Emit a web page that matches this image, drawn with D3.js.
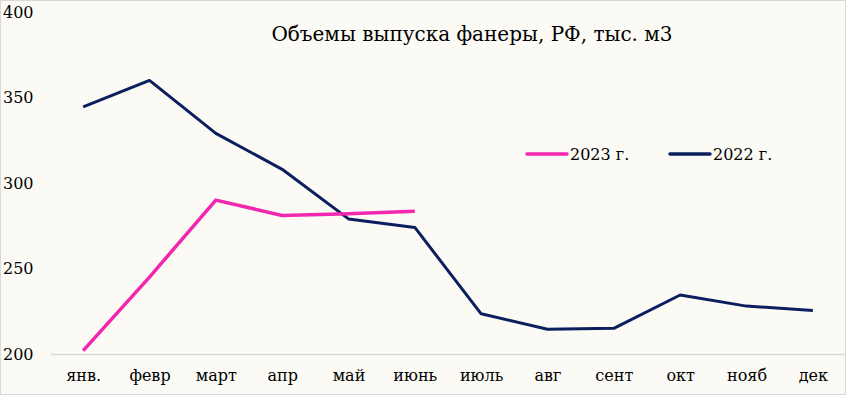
<!DOCTYPE html>
<html>
<head>
<meta charset="utf-8">
<script src="https://cdn.jsdelivr.net/npm/d3@7"></script>
<style>
  body { margin: 0; background: #fff; }
  svg text { font-family: "DejaVu Serif", "Liberation Serif", serif; fill: #000; }
</style>
</head>
<body>
<div id="chart-area"></div>
<script>
// Data -------------------------------------------------
const months = ["янв.", "февр", "март", "апр", "май", "июнь", "июль", "авг", "сент", "окт", "нояб", "дек"]
const vals2023 = [202, 245, 290, 281, 282, 283.5]
const vals2022 = [344.5, 360, 329, 308, 279, 274, 223.5, 214.5, 215, 234.5, 228, 225.5]
const yTicks = [200, 250, 300, 350, 400]
const seriesNames = ["2023 г.", "2022 г."]

// Canvas setup -----------------------------------------
const W = 846, H = 395
const MARGIN = {LEFT: 50, RIGHT: 0, TOP: 12, BOTTOM: 41}
const WIDTH = W - MARGIN.LEFT - MARGIN.RIGHT
const HEIGHT = H - MARGIN.TOP - MARGIN.BOTTOM

const svg = d3.select("#chart-area").append("svg")
  .attr("width", W)
  .attr("height", H)

svg.append("rect")
  .attr("x", 0.5).attr("y", 0.5)
  .attr("width", W - 1).attr("height", H - 1)
  .attr("fill", "#fbfaf5")
  .attr("stroke", "#d9d9d9")

const g = svg.append("g")
  .attr("transform", `translate(${MARGIN.LEFT}, ${MARGIN.TOP})`)

// Scales -----------------------------------------------
const x = d3.scalePoint()
  .domain(months)
  .range([0, WIDTH])
  .padding(0.5)

const y = d3.scaleLinear()
  .domain([200, 400])
  .range([HEIGHT, 0])

// Axes -------------------------------------------------
const xAxis = g.append("g")
  .attr("transform", `translate(0,${HEIGHT})`)
  .call(d3.axisBottom(x).tickSize(0).tickPadding(16))
xAxis.select(".domain").attr("stroke", "#d9d9d9").attr("stroke-width", 1.5)
xAxis.selectAll("text").attr("font-size", "16px")

const yAxis = g.append("g")
  .call(d3.axisLeft(y).tickValues(yTicks).tickSize(0))
yAxis.select(".domain").remove()
yAxis.selectAll("text")
  .attr("font-size", "16px")
  .attr("text-anchor", "start")
  .attr("x", 3 - MARGIN.LEFT)

// Lines ------------------------------------------------
const line = d3.line()
  .x((d, i) => x(months[i]))
  .y(d => y(d))

g.append("path")
  .attr("fill", "none")
  .attr("stroke", "#0b1f5e")
  .attr("stroke-width", 3)
  .attr("stroke-linejoin", "round")
  .attr("d", line(vals2022))

g.append("path")
  .attr("fill", "none")
  .attr("stroke", "#f227b0")
  .attr("stroke-width", 3.5)
  .attr("stroke-linejoin", "round")
  .attr("d", line(vals2023))

// Title ------------------------------------------------
svg.append("text")
  .attr("x", 472)
  .attr("y", 41)
  .attr("text-anchor", "middle")
  .attr("font-size", "20px")
  .text("Объемы выпуска фанеры, РФ, тыс. м3")

// Legend -----------------------------------------------
const legend = svg.append("g")
  .attr("transform", "translate(525, 154)")
const legColors = ["#f227b0", "#0b1f5e"]
seriesNames.forEach((name, i) => {
  const lg = legend.append("g").attr("transform", `translate(${i * 143},0)`)
  lg.append("line")
    .attr("x1", 2).attr("x2", 42)
    .attr("stroke", legColors[i])
    .attr("stroke-width", 3.5)
    .attr("stroke-linecap", "round")
  lg.append("text")
    .attr("x", 45)
    .attr("y", 6)
    .attr("font-size", "16px")
    .text(name)
})
</script>
</body>
</html>
